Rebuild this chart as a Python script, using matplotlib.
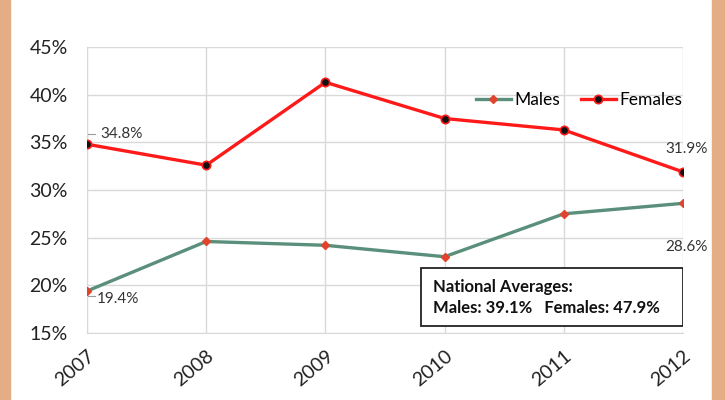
import matplotlib.pyplot as plt
from matplotlib.patches import Rectangle

years = ['2007', '2008', '2009', '2010', '2011', '2012']
males = [19.4, 24.6, 24.2, 23.0, 27.5, 28.6]
females = [34.8, 32.6, 41.3, 37.5, 36.3, 31.9]
yticks = [15, 20, 25, 30, 35, 40, 45]

plt.rcParams['font.family'] = ['Lato', 'DejaVu Sans']

fig = plt.figure(figsize=(7.25, 4), dpi=100)
fig.patches.append(Rectangle((0, 0), 10 / 725, 1, transform=fig.transFigure,
                             color='#E3AD86', zorder=0))
fig.patches.append(Rectangle((712 / 725, 0), 13 / 725, 1, transform=fig.transFigure,
                             color='#E3AD86', zorder=0))

ax = fig.add_axes([0.12, 0.1675, 0.822, 0.715])
x = list(range(len(years)))

ax.plot(x, males, color='#5A8F7B', lw=2.4, marker='D', ms=4,
        mfc='#E0442C', mec='#E0442C', label='Males', zorder=3)
ax.plot(x, females, color='#FF1A1A', lw=2.4, marker='o', ms=6,
        mfc='#111111', mec='#FF1A1A', mew=1.2, label='Females', zorder=3)

ax.set_xlim(0, len(years) - 1)
ax.set_ylim(15, 45)
ax.set_yticks(yticks)
ax.set_yticklabels([f'{v}%' for v in yticks], fontsize=14, color='#222222')
ax.set_xticks(x)
ax.set_xticklabels(years, rotation=40, ha='right', rotation_mode='anchor',
                   fontsize=14, color='#222222')
ax.tick_params(axis='y', length=0, pad=14)
ax.tick_params(axis='x', length=0, pad=10)
ax.grid(True, color='#D9D9D9', lw=1)
for s in ['top', 'right']:
    ax.spines[s].set_visible(False)
for s in ['left', 'bottom']:
    ax.spines[s].set_color('#D9D9D9')

# data labels at the ends
lab = dict(fontsize=11, color='#333333')
ax.plot([0, 0], [34.8, 35.9], color='#999999', lw=0.8)
ax.plot([0, 0.07], [35.9, 35.9], color='#999999', lw=0.8)
ax.text(0.11, 35.9, f'{females[0]}%', va='center', ha='left', **lab)
ax.plot([0, 0.07], [18.9, 18.9], color='#999999', lw=0.8)
ax.text(0.08, 18.6, f'{males[0]}%', va='center', ha='left', **lab)
ax.text(5.03, 34.3, f'{females[-1]}%', va='center', ha='center', **lab)
ax.text(5.03, 24.0, f'{males[-1]}%', va='center', ha='center', **lab)

ax.legend(loc='center right', bbox_to_anchor=(1.01, 0.815), ncol=2, frameon=False,
          fontsize=12.5, handlelength=2.0, columnspacing=1.2, handletextpad=0.2,
          borderaxespad=0)

ax.add_patch(Rectangle((2.8, 15.7), 2.2, 6.1, fc='white', ec='#222222', lw=1.3,
                       zorder=5))
ax.text(2.9, 18.75, 'National Averages:\nMales: 39.1%   Females: 47.9%',
        fontsize=12, fontweight='bold', color='#111111', va='center', ha='left',
        linespacing=1.4, zorder=6)

fig.savefig('out.png', dpi=100)
